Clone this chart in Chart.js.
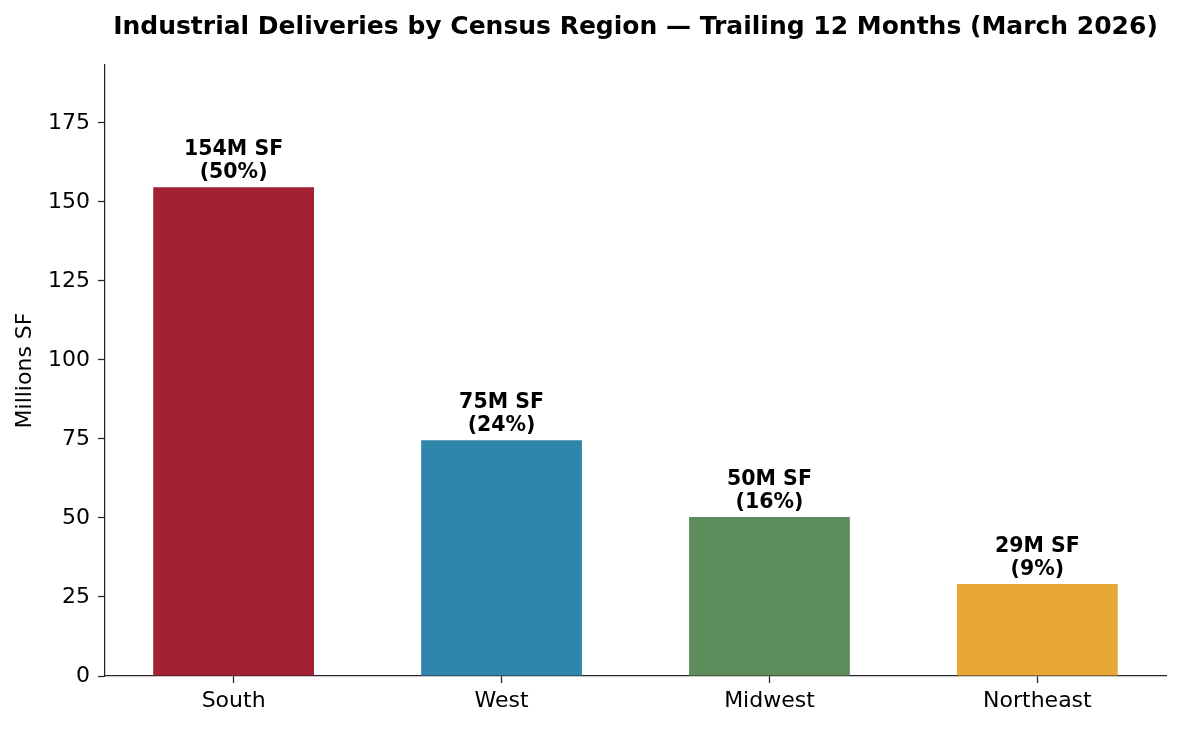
<!DOCTYPE html>
<html>
<head>
<meta charset="utf-8">
<script src="https://cdn.jsdelivr.net/npm/chart.js@4"></script>
<style>
  html, body { margin: 0; padding: 0; background: #fff; }
  #wrap { width: 1181px; height: 729px; }
</style>
</head>
<body>
<div id="wrap"><canvas id="deliveriesChart" width="1181" height="729"></canvas></div>
<script>
// data
const regions = ['South', 'West', 'Midwest', 'Northeast'];
const deliveries = [154.6, 74.6, 50.3, 29.1]; // millions SF, trailing 12 months
const sfLabels = ['154M SF', '75M SF', '50M SF', '29M SF'];
const pctLabels = ['(50%)', '(24%)', '(16%)', '(9%)'];
const barColors = ['#A31F34', '#2E86AB', '#5C8D5C', '#E8A838'];
const yTicks = [0, 25, 50, 75, 100, 125, 150, 175];

const FONT = "'DejaVu Sans', sans-serif";
const axisColor = '#262626';

// two-line value labels above each bar
const barLabels = {
    id: 'barLabels',
    afterDatasetsDraw(chart) {
        const ctx = chart.ctx;
        const bars = chart.getDatasetMeta(0).data;
        ctx.save();
        ctx.fillStyle = '#000';
        ctx.textAlign = 'center';
        ctx.textBaseline = 'alphabetic';
        ctx.font = 'bold 20.5px ' + FONT;
        bars.forEach((bar, i) => {
            ctx.fillText(sfLabels[i], bar.x, bar.y - 32);
            ctx.fillText(pctLabels[i], bar.x, bar.y - 9.5);
        });
        ctx.restore();
    }
};

new Chart(document.getElementById('deliveriesChart'), {
    type: 'bar',
    data: {
        datasets: [{
            label: 'Deliveries (M SF)',
            data: deliveries.map((v, i) => ({ x: i, y: v })),
            backgroundColor: barColors,
            borderWidth: 0,
            categoryPercentage: 1.0,
            barPercentage: 0.6
        }]
    },
    options: {
        responsive: false,
        animation: false,
        devicePixelRatio: 1,
        layout: { padding: { left: 8, right: 15, top: 0, bottom: 0 } },
        plugins: {
            legend: { display: false },
            tooltip: { enabled: false },
            title: {
                display: true,
                fullSize: false,
                text: 'Industrial Deliveries by Census Region \u2014 Trailing 12 Months (March 2026)',
                color: '#000',
                font: { family: FONT, size: 25, weight: 'bold', lineHeight: 1.2 },
                padding: { top: 12, bottom: 23 }
            }
        },
        scales: {
            x: {
                type: 'linear',
                min: -0.48,
                max: 3.48,
                offset: false,
                afterFit: s => { s.height = 53; },
                afterBuildTicks: s => { s.ticks = regions.map((r, i) => ({ value: i })); },
                grid: {
                    offset: false,
                    drawOnChartArea: false,
                    drawTicks: true,
                    tickLength: 7,
                    tickColor: axisColor,
                    tickWidth: 1.25
                },
                border: { color: axisColor, width: 1.25 },
                ticks: {
                    color: '#000',
                    padding: 5,
                    font: { family: FONT, size: 22 },
                    callback: v => regions[v]
                }
            },
            y: {
                min: 0,
                max: 193.3,
                bounds: 'data',
                afterFit: s => { s.width = 97; },
                afterBuildTicks: s => { s.ticks = yTicks.map(v => ({ value: v })); },
                grid: {
                    drawOnChartArea: false,
                    drawTicks: true,
                    tickLength: 7,
                    tickColor: axisColor,
                    tickWidth: 1.25
                },
                border: { color: axisColor, width: 1.25 },
                ticks: {
                    color: '#000',
                    padding: 8,
                    font: { family: FONT, size: 22 }
                },
                title: {
                    display: true,
                    text: 'Millions SF',
                    color: '#000',
                    font: { family: FONT, size: 22 },
                    padding: { top: 4, bottom: 4 }
                }
            }
        }
    },
    plugins: [barLabels]
});
</script>
</body>
</html>
